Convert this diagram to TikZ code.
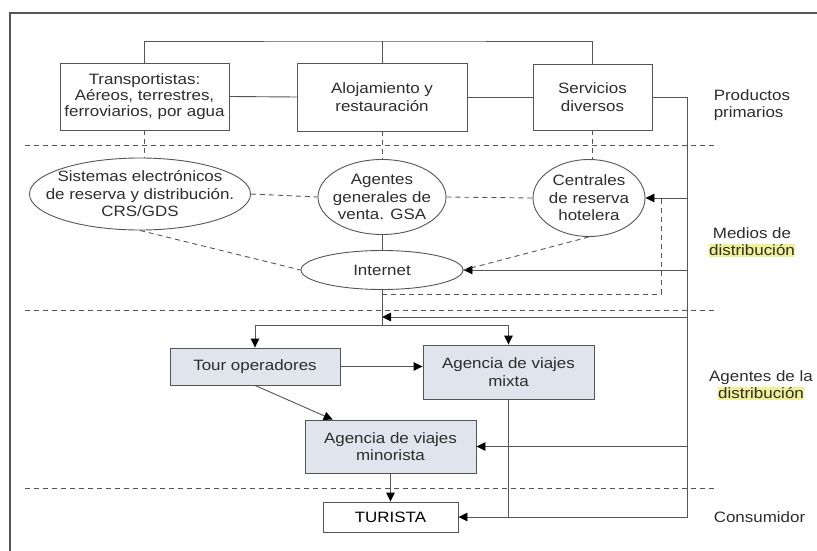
\documentclass[tikz,border=0pt]{standalone}
\usepackage{fontspec}
\setmainfont{Liberation Sans}[FakeStretch=1.13]
\usetikzlibrary{arrows.meta,shapes.geometric}
\tikzset{>={Triangle[length=9pt,width=8.5pt,color=black]}}
\definecolor{trazo}{RGB}{85,85,85}
\definecolor{tinta}{RGB}{45,45,45}
\definecolor{grisazul}{RGB}{224,228,236}
\definecolor{amarillo}{RGB}{240,240,150}
\setlength{\fboxsep}{0.6pt}
\newcommand{\resalta}[1]{\colorbox{amarillo}{#1}}

\begin{document}
\begin{tikzpicture}[x=1pt,y=-1pt,line width=0.9pt,
  every node/.style={font=\fontsize{15}{17.5}\selectfont, text=tinta},
  caja/.style={draw=trazo, align=center, inner sep=0},
  agencia/.style={caja, fill=grisazul},
  elipse/.style={draw=trazo, ellipse, inner sep=0},
  texto/.style={align=center},
  nivel/.style={align=center},
  linea/.style={draw=trazo},
  corte/.style={draw=trazo, dash pattern=on 5pt off 4pt}]
\useasboundingbox (0,0) rectangle (817,551);

% productos primarios
\node[caja, minimum width=169, minimum height=67, font=\fontsize{15}{16}\selectfont] (trans) at (144.5,96.5) {Transportistas:\\ Aéreos, terrestres,\\ ferroviarios, por agua};
\node[caja, minimum width=170, minimum height=68] (aloj) at (382,97) {Alojamiento y\\ restauración};
\node[caja, minimum width=119, minimum height=66] (serv) at (592.5,97) {Servicios\\ diversos};

% medios de distribucion
\node[elipse, minimum width=221, minimum height=72, label={[texto]center:Sistemas electrónicos\\ de reserva y distribución.\\ CRS/GDS}] (sist) at (140,194) {};
\node[elipse, minimum width=128, minimum height=75, label={[texto]center:Agentes\\ generales de\\ venta. GSA}] (agen) at (382,197) {};
\node[elipse, minimum width=112, minimum height=77, label={[texto]center:Centrales\\ de reserva\\ hotelera}] (cent) at (589,198) {};
\node[elipse, minimum width=162, minimum height=39] (inter) at (382,270) {Internet};

% agentes y consumidor
\node[agencia, minimum width=170, minimum height=37] (tour) at (255,366.5) {Tour operadores};
\node[agencia, minimum width=171, minimum height=54] (mixta) at (508.5,372) {Agencia de viajes\\ mixta};
\node[agencia, minimum width=171, minimum height=53] (mino) at (390.5,446.5) {Agencia de viajes\\ minorista};
\node[caja, minimum width=135, minimum height=30, text=black] (tur) at (390.5,517) {TURISTA};

% niveles
\node[nivel, anchor=west, align=left] (prod) at (710,105) {Productos\\ primarios};
\node[nivel] (medios) at (752,242) {Medios de\\ \resalta{distribución}};
\node[nivel] (agentes) at (761,385) {Agentes de la\\ \resalta{distribución}};
\node[nivel, anchor=west] (cons) at (710,517) {Consumidor};

\coordinate (arriba) at (382,41);
\coordinate (der) at (687,517);
\coordinate (nudo) at (382,317);
\coordinate (reparto) at (382,325);
\coordinate (lazo) at (661,294);

\draw[trazo, line width=1.2pt] (10,551) -- (10,13) -- (817,13);
\foreach \y in {145,310,488} \draw[corte] (25,\y) -- (718,\y);

\draw[linea] (trans.north) |- (arriba) -| (serv.north);
\draw[linea] (aloj.north) -- (arriba);
\draw[linea] (trans.east) -- (aloj.west);
\draw[linea] (aloj.east) -- (serv.west);
\draw[linea,->] (serv.east) -| (der) -- (tur.east);
\draw[linea,->] (der |- cent.east) -- (cent.east);
\draw[linea,->] (der |- inter.east) -- (inter.east);
\draw[linea,->] (der |- nudo) -- (nudo);
\draw[linea,->] (der |- mino.east) -- (mino.east);

\draw[corte] (trans.south) -- (trans.south |- sist.north);
\draw[corte] (aloj.south) -- (agen.north);
\draw[corte] (serv.south) -- (serv.south |- cent.north);
\draw[corte] (sist.east) -- (agen.west);
\draw[corte] (agen.east) -- (cent.west);
\draw[corte] (sist.south) -- (inter.west);
\draw[corte] (cent.south) -- (inter.east);
\draw[corte] (inter.south |- lazo) -- (lazo) -- (lazo |- cent.east);

\draw[linea] (agen.south) -- (inter.north);
\draw[linea] (inter.south) -- (reparto);
\draw[linea,->] (reparto) -| (tour.north);
\draw[linea,->] (reparto) -| (mixta.north);
\draw[linea,->] (tour.east) -- (tour.east -| mixta.west);
\draw[linea,->] (tour.south) -- (mino.155);
\draw[linea] (mixta.south) -- (mixta.south |- tur.east);
\draw[linea,->] (mino.south) -- (tur.north);
\end{tikzpicture}
\end{document}
